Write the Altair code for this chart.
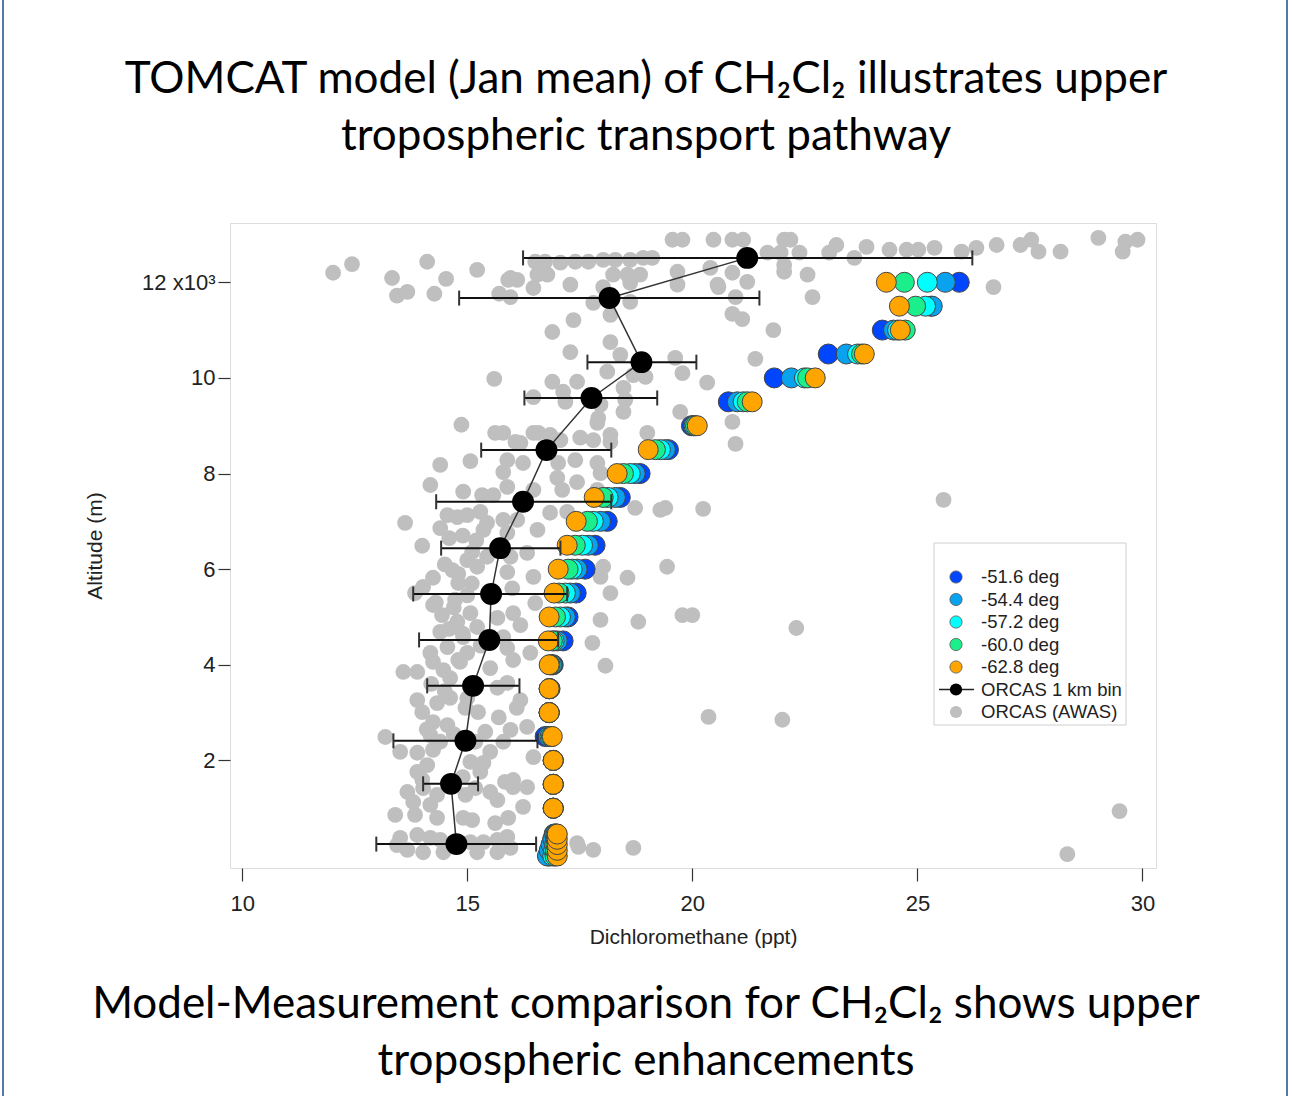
import altair as alt
import pandas as pd

# ---------------- data ----------------
model_alt_m = [0, 120, 240, 350, 460, 1000, 1500, 2000, 2500, 3000, 3500, 4000, 4500,
               5000, 5500, 6000, 6500, 7000, 7500, 8000, 8500, 9000, 9500, 10000,
               10500, 11000, 11500, 12000]
model_series = ["-51.6 deg", "-54.4 deg", "-57.2 deg", "-60.0 deg", "-62.8 deg"]
model_colors = ["#0046ff", "#09a2ee", "#00ffff", "#1aef8c", "#ffa500"]
model_51_6 = [16.82, 16.85, 16.88, 16.90, 16.93, 16.91, 16.91, 16.91, 16.73, 16.82, 16.84, 16.91, 17.13,
              17.24, 17.42, 17.62, 17.84, 18.11, 18.40, 18.84, 19.47, 19.98, 20.80, 21.82,
              23.02, 24.22, 25.30, 25.93]
model_54_4 = [16.78, 16.82, 16.86, 16.90, 16.94, 16.91, 16.91, 16.91, 16.80, 16.82, 16.83, 16.89, 17.00,
              17.18, 17.29, 17.44, 17.69, 17.96, 18.29, 18.73, 19.40, 20.02, 21.00, 22.20,
              23.42, 24.47, 25.33, 25.62]
model_57_2 = [16.90, 16.92, 16.94, 16.96, 16.97, 16.91, 16.91, 16.91, 16.84, 16.82, 16.82, 16.87, 16.93,
              17.07, 17.18, 17.33, 17.56, 17.80, 18.13, 18.62, 19.29, 20.04, 21.13, 22.49,
              23.67, 24.56, 25.18, 25.22]
model_60_0 = [16.95, 16.96, 16.97, 16.98, 16.99, 16.91, 16.91, 16.91, 16.87, 16.82, 16.82, 16.84, 16.89,
              16.96, 17.04, 17.24, 17.40, 17.67, 18.02, 18.47, 19.18, 20.07, 21.22, 22.56,
              23.76, 24.73, 24.96, 24.71]
model_62_8 = [17.00, 17.00, 17.00, 17.00, 17.00, 16.91, 16.91, 16.91, 16.89, 16.82, 16.82, 16.82, 16.80,
              16.82, 16.93, 17.02, 17.22, 17.42, 17.82, 18.33, 19.02, 20.11, 21.33, 22.73,
              23.82, 24.62, 24.60, 24.31]

bin_alt_m = [12510, 11670, 10330, 9580, 8490, 7410, 6440, 5480, 4520, 3560, 2410, 1510, 250]
bin_mean = [21.22, 18.16, 18.87, 17.76, 16.76, 16.24, 15.73, 15.53, 15.49, 15.13, 14.96, 14.64, 14.76]
bin_lo = [16.24, 14.82, 17.67, 16.27, 15.31, 14.31, 14.42, 13.80, 13.93, 14.11, 13.36, 14.02, 12.98]
bin_hi = [26.22, 21.49, 20.09, 19.22, 18.20, 18.20, 17.07, 17.22, 17.02, 16.16, 16.56, 15.24, 16.53]

gray_ppt = [
    12.02, 12.44, 13.33, 13.44, 13.67, 14.11, 14.53, 14.27, 15.22, 15.91, 15.71, 15.60, 14.87, 15.62,
    19.56, 19.78, 20.47, 16.51, 16.73, 17.07, 17.40, 17.69, 18.02, 18.29, 18.62, 18.91, 19.11,
    15.96, 16.11, 16.56, 16.78, 17.29, 18.02, 18.24, 18.56, 18.84, 18.62, 19.67, 19.67, 20.56,
    15.96, 16.47, 17.80, 18.18, 18.62, 17.36, 16.89, 18.18, 17.29, 18.40, 18.11, 18.69, 18.96,
    19.62, 19.78, 20.33, 16.89, 17.44, 17.13, 16.47, 18.47, 18.51, 17.96, 17.18, 18.47, 17.91,
    19.73, 16.58, 16.84, 17.51, 18.18, 16.07, 19.00,
    20.89, 21.13, 22.04, 22.18, 21.67, 21.96, 22.38, 23.04, 23.20, 23.60, 23.87, 24.38, 24.76,
    25.02, 25.38, 25.98, 26.31, 26.76, 27.29, 27.53, 27.69, 28.18, 29.02, 29.56, 29.62, 29.89,
    20.40, 20.89, 21.22, 20.58, 22.04, 22.04, 22.56, 20.96, 22.67, 26.69, 20.89, 21.11, 21.80,
    21.40, 20.89, 20.96,
    20.24, 25.58, 22.31, 20.36, 22.00, 29.49, 28.33,
    19.44, 18.56, 19.78, 20.00, 18.80, 17.96, 17.78, 18.07, 17.47, 17.80, 18.69, 19.40, 19.29,
    18.73, 17.96, 18.18, 15.80, 16.18, 16.47, 17.07, 17.80, 18.18, 17.89, 15.89, 16.24, 17.02,
    17.40, 17.89, 17.00, 17.44, 17.96, 15.89, 16.47, 17.11, 17.89, 16.84, 17.22, 16.11, 16.56,
    15.89, 15.96, 16.33, 15.89, 16.47, 18.02, 16.02, 16.51, 16.18, 15.80, 16.40, 16.02, 15.89,
    16.18, 16.33, 15.96, 16.47, 16.02, 16.02, 16.33, 16.24, 15.91, 17.44, 15.89,
    14.40, 15.07, 14.18, 14.91, 15.33, 15.58, 15.80, 15.80, 13.62, 14.00, 14.40, 14.56, 14.78,
    15.00, 15.29, 15.44, 15.36, 15.11, 15.00, 15.22, 15.44, 14.67, 14.24, 14.02, 14.80, 13.84,
    14.24, 14.44, 14.73, 15.07, 14.78, 15.22, 15.67, 14.40, 14.91, 14.56, 14.18, 15.00, 15.89,
    13.58, 13.89, 14.24, 14.47, 14.84, 14.62, 15.51, 15.67, 13.89, 14.00, 14.33, 14.62, 14.96,
    15.24, 14.24, 14.56, 14.18, 14.40, 13.18, 13.51, 13.89, 14.24, 15.18, 15.51, 15.80, 15.07,
    15.36, 13.89, 14.11, 13.67, 14.02, 14.33, 13.80, 14.18, 15.29, 15.18, 15.51, 15.84, 15.67,
    14.96, 13.40, 13.84, 14.33, 14.91, 15.11, 15.62, 13.51, 13.89, 14.18, 14.40, 15.07, 15.36,
    15.67, 13.67, 14.02, 14.47, 15.22, 15.67, 15.96, 13.44,
    14.60, 14.90, 15.20, 14.50, 14.80, 15.10, 14.30, 14.70, 15.00, 14.60, 14.90, 15.30, 14.80,
    14.20, 14.50, 14.10, 14.70, 15.40, 16.10, 15.70, 14.00, 14.90, 16.00, 15.00,
]
gray_alt_m = [
    12200, 12380, 12090, 11720, 11800, 12430, 12070, 11760, 12260, 12050, 11760, 9980, 9020, 8850,
    12890, 12890, 12890, 12430, 12430, 12410, 12430, 12430, 12470, 12470, 12470, 12510, 12510,
    12090, 12050, 12160, 12160, 11950, 11900, 12160, 12160, 12160, 11990, 12220, 11950, 11950,
    11690, 11880, 11570, 11320, 11590, 11210, 10960, 10750, 10540, 10480, 10130, 10060, 10020,
    10420, 10100, 9900, 9920, 9920, 9710, 9600, 9790, 9540, 9440, 9500, 9290, 9160,
    9290, 8850, 8810, 8750, 8660, 8660, 8850,
    12890, 12890, 12890, 12890, 12620, 12620, 12620, 12620, 12780, 12510, 12740, 12680, 12680,
    12680, 12720, 12640, 12720, 12780, 12780, 12890, 12640, 12640, 12930, 12640, 12850, 12890,
    12300, 12200, 12010, 11900, 12360, 12220, 12160, 11690, 11690, 11900, 11340, 11230, 11000,
    10400, 9080, 8620,
    7260, 7450, 4770, 2910, 2850, 940, 40,
    6050, 5820, 5040, 5040, 4900, 4940, 4460, 3980, 190, 130, 170, 7280, 7240,
    7280, 5840, 5500, 8850, 8640, 8850, 8700, 8700, 8810, 9060, 8280, 8220, 8220,
    8280, 8220, 7910, 7820, 8010, 7720, 7660, 7660, 7660, 7180, 7200, 7030, 6820,
    6760, 6260, 6340, 5940, 5840, 6050, 5080, 5290, 4830, 4580, 4250, 4100, 3620,
    3260, 2700, 2640, 2070, 1590, 1440, 1440, 1030, 800, 270, 400,
    8180, 8260, 7760, 7620, 7550, 7550, 8030, 7030, 6970, 6490, 6860, 7130, 7090,
    7130, 7200, 6970, 6820, 6360, 6190, 6050, 6260, 5980, 5820, 5630, 5710, 5500,
    5250, 5040, 5360, 5080, 4900, 4790, 4980, 4690, 4580, 4370, 4250, 4250, 4350,
    3850, 3850, 4060, 3890, 4060, 3720, 3930, 3520, 3260, 3010, 3200, 3310, 3100,
    3010, 2800, 2740, 2530, 2390, 2490, 2180, 2160, 2220, 2390, 2180, 2390, 1970,
    1950, 1760, 1900, 1340, 1420, 1280, 1130, 1070, 1760, 1420, 1340, 1550, 1170,
    1280, 860, 860, 800, 800, 750, 690, 380, 440, 380, 340, 290, 290,
    340, 130, 80, 80, 80, 80, 170, 230,
    6650, 6700, 6600, 6100, 5900, 5700, 5300, 5200, 5450, 4750, 4650, 4400, 4100,
    3600, 3450, 2650, 2550, 2600, 3100, 2900, 1600, 1650, 5600, 3300,
]

legend_labels = model_series + ["ORCAS 1 km bin", "ORCAS (AWAS)"]
title_lines = ["TOMCAT model (Jan mean) of CH\u2082Cl\u2082 illustrates upper",
               "tropospheric transport pathway"]
caption_lines = ["Model-Measurement comparison for CH\u2082Cl\u2082 shows upper",
                 "tropospheric enhancements"]

# ---------------- tables ----------------
model_rows = []
for name, vals in zip(model_series, [model_51_6, model_54_4, model_57_2, model_60_0, model_62_8]):
    for a, v in zip(model_alt_m, vals):
        model_rows.append({"series": name, "ppt": v, "alt": a})
model_df = pd.DataFrame(model_rows)
bin_df = pd.DataFrame({"alt": bin_alt_m, "ppt": bin_mean, "lo": bin_lo, "hi": bin_hi})
gray_df = pd.DataFrame({"ppt": gray_ppt, "alt": gray_alt_m})
legend_df = pd.DataFrame({"label": legend_labels, "idx": list(range(len(legend_labels)))})

# ---------------- scales / axes ----------------
W, H = 926, 645
X_DOM = [9.73, 30.3]
Y_DOM = [-250, 13240]
FONT = "Liberation Sans"


def xs():
    return alt.Scale(domain=X_DOM, nice=False, zero=False)


def ys():
    return alt.Scale(domain=Y_DOM, nice=False, zero=False)


x_axis = alt.Axis(title="Dichloromethane (ppt)", values=[10, 15, 20, 25, 30], grid=False,
                  domain=False, tickSize=13, tickColor="#333", tickWidth=1.2,
                  labelFont=FONT, labelFontSize=22, labelColor="#222", labelPadding=12,
                  titleFont=FONT, titleFontSize=21, titleFontWeight="normal", titleColor="#222",
                  titlePadding=12, format="d")
y_axis = alt.Axis(title="Altitude (m)", values=[2000, 4000, 6000, 8000, 10000, 12000], grid=False,
                  domain=False, tickSize=12, tickColor="#333", tickWidth=1.2,
                  labelFont=FONT, labelFontSize=22, labelColor="#222", labelPadding=3,
                  labelExpr="datum.value == 12000 ? '12 x10\u00b3' : format(datum.value / 1000, 'd')",
                  titleFont=FONT, titleFontSize=21, titleFontWeight="normal", titleColor="#222",
                  titlePadding=36)

color_scale = alt.Scale(domain=model_series, range=model_colors)

# ---------------- layers ----------------
gray = alt.Chart(gray_df).mark_circle(size=250, color="#bfbfbf", opacity=1).encode(
    x=alt.X("ppt:Q", scale=xs(), axis=x_axis),
    y=alt.Y("alt:Q", scale=ys(), axis=y_axis),
)

model = alt.Chart(model_df).mark_point(filled=True, size=400, opacity=1, stroke="#444",
                                        strokeWidth=1).encode(
    x=alt.X("ppt:Q", scale=xs(), axis=None),
    y=alt.Y("alt:Q", scale=ys(), axis=None),
    fill=alt.Fill("series:N", scale=color_scale, legend=None),
)

bars = alt.Chart(bin_df).mark_rule(color="#111", strokeWidth=2).encode(
    x=alt.X("lo:Q", scale=xs(), axis=None), x2="hi:Q",
    y=alt.Y("alt:Q", scale=ys(), axis=None),
)
cap_lo = alt.Chart(bin_df).mark_tick(orient="vertical", size=15, thickness=2, color="#333",
                                     opacity=1).encode(
    x=alt.X("lo:Q", scale=xs(), axis=None),
    y=alt.Y("alt:Q", scale=ys(), axis=None),
)
cap_hi = alt.Chart(bin_df).mark_tick(orient="vertical", size=15, thickness=2, color="#333",
                                     opacity=1).encode(
    x=alt.X("hi:Q", scale=xs(), axis=None),
    y=alt.Y("alt:Q", scale=ys(), axis=None),
)
line = alt.Chart(bin_df).mark_line(color="#333", strokeWidth=1.5).encode(
    x=alt.X("ppt:Q", scale=xs(), axis=None),
    y=alt.Y("alt:Q", scale=ys(), axis=None),
    order="alt:Q",
)
bins = alt.Chart(bin_df).mark_circle(size=480, color="black", opacity=1).encode(
    x=alt.X("ppt:Q", scale=xs(), axis=None),
    y=alt.Y("alt:Q", scale=ys(), axis=None),
)

# ---------------- legend (drawn inside the plot) ----------------
leg_y = alt.Scale(domain=[0, 6], range=[354, 489])
one = pd.DataFrame({"k": [0]})
leg_box = alt.Chart(one).mark_rect(fill="white", stroke="#cfcfcf", strokeWidth=1).encode(
    x=alt.value(704), x2=alt.value(896), y=alt.value(320), y2=alt.value(502))
leg_model = alt.Chart(legend_df.iloc[:5]).mark_point(filled=True, size=150, opacity=1,
                                                     stroke="#555", strokeWidth=0.8).encode(
    x=alt.value(726),
    y=alt.Y("idx:Q", scale=leg_y, axis=None),
    fill=alt.Fill("label:N", scale=color_scale, legend=None),
)
leg_line = alt.Chart(legend_df.iloc[5:6]).mark_rule(color="#222", strokeWidth=1.5).encode(
    x=alt.value(709), x2=alt.value(744),
    y=alt.Y("idx:Q", scale=leg_y, axis=None),
)
leg_bin = alt.Chart(legend_df.iloc[5:6]).mark_circle(size=150, color="black", opacity=1).encode(
    x=alt.value(726),
    y=alt.Y("idx:Q", scale=leg_y, axis=None),
)
leg_gray = alt.Chart(legend_df.iloc[6:7]).mark_circle(size=150, color="#bfbfbf", opacity=1).encode(
    x=alt.value(726),
    y=alt.Y("idx:Q", scale=leg_y, axis=None),
)
leg_text = alt.Chart(legend_df).mark_text(align="left", baseline="middle", font=FONT,
                                          fontSize=18.5, color="#222").encode(
    x=alt.value(751),
    y=alt.Y("idx:Q", scale=leg_y, axis=None),
    text="label:N",
)

# ---------------- page texts and frame ----------------
texts = []
for line_txt, ypos in zip(title_lines + caption_lines, [-143, -86, 782, 839]):
    texts.append(alt.Chart(pd.DataFrame({"t": [line_txt]})).mark_text(
        font="Lato", fontSize=44, align="center", baseline="middle", color="#000").encode(
        text="t:N", x=alt.value(416), y=alt.value(ypos)))

frame_l = alt.Chart(one).mark_rule(color="#5578a8", strokeWidth=2).encode(
    x=alt.value(-227), y=alt.value(-223), y2=alt.value(873))
frame_r = alt.Chart(one).mark_rule(color="#5578a8", strokeWidth=2).encode(
    x=alt.value(1057), y=alt.value(-223), y2=alt.value(873))

chart = alt.layer(
    gray, model, bars, cap_lo, cap_hi, line, bins,
    leg_box, leg_model, leg_line, leg_bin, leg_gray, leg_text,
    *texts, frame_l, frame_r,
).resolve_scale(x="independent", y="independent", fill="shared").properties(
    width=W, height=H,
    autosize=alt.AutoSizeParams(type="none"),
    padding={"left": 230, "top": 223, "right": 136, "bottom": 228},
).configure_view(stroke="#444", strokeWidth=1.5).configure(background="white")

chart.save("out.html", embed_options={"renderer": "svg", "actions": False})
